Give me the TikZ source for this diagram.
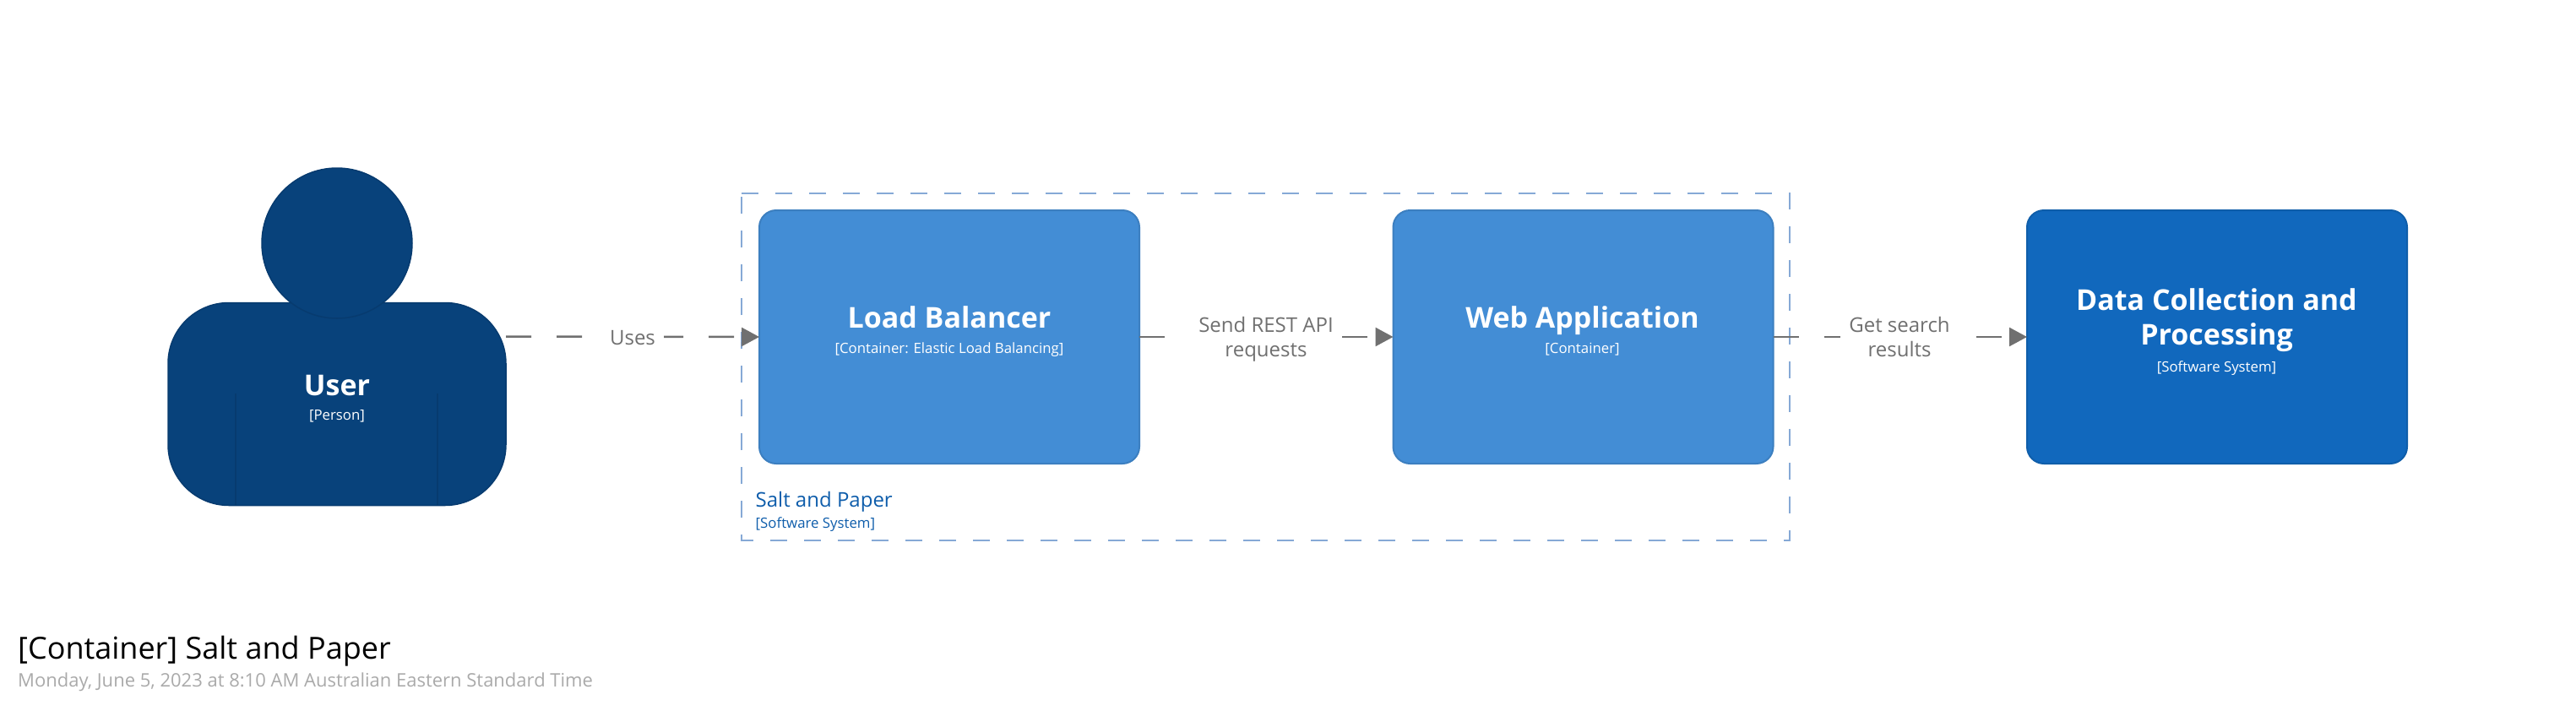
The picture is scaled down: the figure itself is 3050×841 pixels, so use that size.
\documentclass[tikz,border=0pt]{standalone}
\usepackage{fontspec}
\setmainfont{Open Sans}
\usetikzlibrary{arrows.meta}
\definecolor{personfill}{HTML}{08427B}
\definecolor{personline}{HTML}{073B6F}
\definecolor{contfill}{HTML}{438DD5}
\definecolor{contline}{HTML}{3C7FC0}
\definecolor{sysfill}{HTML}{1168BD}
\definecolor{sysline}{HTML}{0F5EAA}
\definecolor{bndline}{HTML}{86A9D6}
\definecolor{bndtext}{HTML}{0E5DAB}
\definecolor{edgecol}{HTML}{707070}
\definecolor{subcol}{HTML}{AAAAAA}
\tikzset{
  x=1pt,y=-1pt,
  personpart/.style={fill=personfill,draw=personline,line width=1.5pt},
  box/.style={rectangle,rounded corners=20pt,line width=2pt,inner sep=0pt,outer sep=0pt,minimum width=450pt,minimum height=300pt},
  contbox/.style={box,fill=contfill,draw=contline},
  sysbox/.style={box,fill=sysfill,draw=sysline},
  bndpath/.style={draw=bndline,line width=2pt,dash pattern=on 20pt off 20pt},
  edgeline/.style={draw=edgecol,line width=2.5pt,dash pattern=on 30pt off 30pt,-{Triangle[length=21pt,width=22pt,fill=edgecol]}},
  edgelabel/.style={fill=white,text=edgecol,inner xsep=10pt,inner ysep=0pt,align=center,font=\fontsize{24}{29}\selectfont},
  nametext/.style={text=white,font=\fontsize{34}{41}\selectfont\bfseries,inner sep=0pt,anchor=base,align=center},
  desctext/.style={text=white,font=\fontsize{16.8}{20}\selectfont,inner sep=0pt,anchor=base},
}
\begin{document}
\begin{tikzpicture}
\useasboundingbox (0,0) rectangle (3050,841);
\fill[white] (0,0) rectangle (3050,841);
% boundary
\node[inner sep=0pt,minimum width=1240.5pt,minimum height=411pt] (bnd) at (1498.75,434.5) {};
\draw[bndpath] (bnd.north west) -- (bnd.north east) -- (bnd.south east) -- (bnd.south west) -- cycle;
\node[text=bndtext,font=\fontsize{24}{29}\selectfont,inner sep=0pt,anchor=base west] (bndname) at (894.5,600) {Salt and Paper};
\node[text=bndtext,font=\fontsize{16.8}{20}\selectfont,inner sep=0pt,anchor=base west] (bndtype) at (894.5,625) {[Software System]};
% person
\node[inner sep=0pt,outer sep=0pt,minimum width=400pt,minimum height=401pt] (user) at (399,398.5) {};
\node[personpart,rectangle,rounded corners=72pt,inner sep=0pt,minimum width=400pt,minimum height=240pt] (userbody) at (399,478.5) {};
\coordinate (lineL) at (279,466);
\coordinate (lineR) at (518,466);
\draw[personline,line width=1.5pt] (lineL) -- (lineL |- userbody.south);
\draw[personline,line width=1.5pt] (lineR) -- (lineR |- userbody.south);
\node[personpart,circle,inner sep=0pt,minimum size=178pt] (userhead) at (399,288) {};
\node[nametext] (username) at (399,468) {User};
\node[desctext] (userdesc) at (399,497) {[Person]};
% boxes
\node[contbox] (lb) at (1124,399) {};
\node[nametext] (lbname) at (1124,388) {Load Balancer};
\node[desctext] (lbdesc) at (1124,418) {[Container: Elastic Load Balancing]};
\node[contbox] (web) at (1874.5,399) {};
\node[nametext] (webname) at (1873.5,388) {Web Application};
\node[desctext] (webdesc) at (1873.5,418) {[Container]};
\node[sysbox] (data) at (2625,399) {};
\node[text=white,font=\fontsize{34}{41}\selectfont\bfseries,inner sep=0pt,align=center] (dataname) at (2624.5,379.5) {Data Collection and\\Processing};
\node[desctext] (datadesc) at (2624.5,440) {[Software System]};
% connectors
\draw[edgeline] (user.east) -- (lb.west);
\draw[edgeline] (lb.east) -- (web.west);
\draw[edgeline] (web.east) -- (data.west);
\node[edgelabel] (l1) at (749,400) {Uses};
\node[edgelabel] (l2) at (1499,401.3) {Send REST API\\requests};
\node[edgelabel] (l3) at (2249,398.5) {Get search\\results};
% titles
\node[text=black,font=\fontsize{36}{44}\selectfont,inner sep=0pt,anchor=base west] (title) at (21,780) {[Container] Salt and Paper};
\node[text=subcol,font=\fontsize{22}{27}\selectfont,inner sep=0pt,anchor=base west] (subtitle) at (21,813) {Monday, June 5, 2023 at 8:10 AM Australian Eastern Standard Time};
\end{tikzpicture}
\end{document}
